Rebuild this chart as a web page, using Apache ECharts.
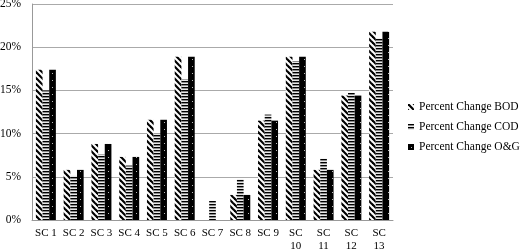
<!DOCTYPE html>
<html><head><meta charset="utf-8">
<script src="https://cdn.jsdelivr.net/npm/echarts@6/dist/echarts.min.js"></script>
<style>html,body{margin:0;padding:0;background:#fff}#c{width:520px;height:251px}</style>
</head><body><div id="c"></div>
<script>
const categories = ['SC 1','SC 2','SC 3','SC 4','SC 5','SC 6','SC 7','SC 8','SC 9','SC\n10','SC\n11','SC\n12','SC\n13'];
const bodValues = [17.4, 5.8, 8.8, 7.3, 11.6, 18.9, 0, 2.9, 11.5, 18.9, 5.8, 14.4, 21.8];
const codValues = [15.0, 5.1, 7.6, 6.3, 10.0, 16.3, 2.2, 4.7, 12.2, 18.4, 7.1, 14.7, 21.0];
const ogValues  = [17.4, 5.8, 8.8, 7.3, 11.6, 18.9, 0, 2.9, 11.5, 18.9, 5.8, 14.4, 21.8];
const yTicks = [0, 5, 10, 15, 20, 25];

function pat(w, h, draw) {
  const c = document.createElement('canvas');
  c.width = w; c.height = h;
  const g = c.getContext('2d');
  draw(g);
  return { image: c, repeat: 'repeat' };
}
const bodPat = pat(6, 6, g => {
  g.fillStyle = '#fff'; g.fillRect(0,0,6,6);
  g.strokeStyle = '#000'; g.lineWidth = 2.2;
  g.beginPath(); g.moveTo(-1,-1); g.lineTo(7,7); g.stroke();
  g.beginPath(); g.moveTo(-7,-1); g.lineTo(1,7); g.stroke();
  g.beginPath(); g.moveTo(5,-1); g.lineTo(13,7); g.stroke();
});
const codPat = pat(4, 3, g => {
  g.fillStyle = '#000'; g.fillRect(0,0,4,1);
  g.fillStyle = '#8a8a8a'; g.fillRect(0,1,4,1);
  g.fillStyle = '#e8e8e8'; g.fillRect(0,2,4,1);
});
const ogPat = pat(7, 7, g => {
  g.fillStyle = '#000'; g.fillRect(0,0,7,7);
  g.fillStyle = '#bbb'; g.fillRect(3,3,1,1);
});

const chart = echarts.init(document.getElementById('c'), null, {renderer: 'canvas'});
const font = '"Liberation Serif", "Times New Roman", serif';
chart.setOption({
  animation: false,
  textStyle: { fontFamily: font },
  grid: { left: 32, right: 127, top: 4, bottom: 31, outerBoundsMode: 'none', containLabel: false },
  legend: {
    orient: 'vertical', left: 408, top: 100, padding: 0, itemWidth: 6, itemHeight: 6, itemGap: 6,
    icon: 'rect',
    textStyle: { fontFamily: font, fontSize: 11.5, lineHeight: 14, color: '#000' },
    data: ['Percent Change BOD', 'Percent Change COD', 'Percent Change O&G']
  },
  xAxis: {
    type: 'category', data: categories,
    axisLine: { lineStyle: { color: '#999' } },
    axisTick: { show: false },
    axisLabel: { color: '#000', fontSize: 11, fontFamily: font, interval: 0, lineHeight: 13, margin: 7 }
  },
  yAxis: {
    type: 'value', min: 0, max: 25, interval: 5,
    axisLine: { show: true, lineStyle: { color: '#999' } },
    axisTick: { show: false },
    splitLine: { lineStyle: { color: '#aaa' } },
    axisLabel: { color: '#000', fontSize: 11.5, fontFamily: font, formatter: v => yTicks.includes(v) ? v + '%' : '', margin: 11 }
  },
  series: [
    { name: 'Percent Change BOD', type: 'bar', data: bodValues, barGap: '0%', barCategoryGap: '28%', itemStyle: { color: bodPat } },
    { name: 'Percent Change COD', type: 'bar', data: codValues, itemStyle: { color: codPat } },
    { name: 'Percent Change O&G', type: 'bar', data: ogValues, itemStyle: { color: ogPat } }
  ]
});
</script></body></html>
